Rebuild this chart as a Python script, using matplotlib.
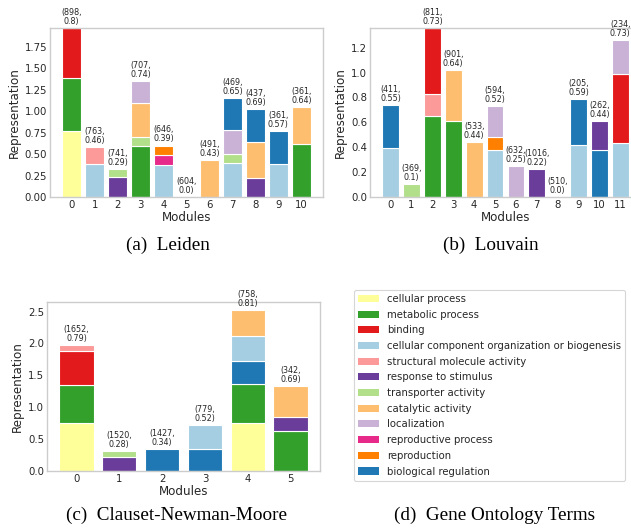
import matplotlib.pyplot as plt
import numpy as np
from matplotlib.patches import Patch

# GO terms, in legend order, and their colours
terms = ["cellular process", "metabolic process", "binding",
         "cellular component organization or biogenesis",
         "structural molecule activity", "response to stimulus",
         "transporter activity", "catalytic activity", "localization",
         "reproductive process", "reproduction", "biological regulation"]
term_colors = ["#ffff99", "#33a02c", "#e31a1c", "#a6cee3", "#fb9a99", "#6a3d9a",
               "#b2df8a", "#fdbf6f", "#cab2d6", "#e7298a", "#ff7f00", "#1f78b4"]

# per module: term indices (bottom to top) and their representation
leiden_terms = [[0, 1, 2], [3, 4], [5, 6], [1, 6, 7, 8], [3, 9, 10], [], [7],
                [3, 6, 8, 11], [5, 7, 11], [3, 11], [1, 7]]
leiden_vals = [[0.77, 0.62, 0.58], [0.39, 0.195], [0.234, 0.096],
               [0.60, 0.105, 0.395, 0.255], [0.378, 0.109, 0.113], [], [0.43],
               [0.40, 0.107, 0.273, 0.37], [0.222, 0.421, 0.387], [0.39, 0.38],
               [0.62, 0.43]]
leiden_labels = ["(898,\n0.8)", "(763,\n0.46)", "(741,\n0.29)", "(707,\n0.74)",
                 "(646,\n0.39)", "(604,\n0.0)", "(491,\n0.43)", "(469,\n0.65)",
                 "(437,\n0.69)", "(361,\n0.57)", "(361,\n0.64)"]

louvain_terms = [[3, 11], [6], [1, 4, 2], [1, 7], [7], [3, 10, 8], [8], [5], [],
                 [3, 11], [11, 5], [3, 2, 8]]
louvain_vals = [[0.39, 0.348], [0.105], [0.65, 0.177, 0.531], [0.61, 0.407],
                [0.44], [0.38, 0.103, 0.247], [0.252], [0.223], [],
                [0.42, 0.37], [0.38, 0.227], [0.43, 0.56, 0.27]]
louvain_labels = ["(411,\n0.55)", "(369,\n0.1)", "(811,\n0.73)", "(901,\n0.64)",
                  "(533,\n0.44)", "(594,\n0.52)", "(632,\n0.25)", "(1016,\n0.22)",
                  "(510,\n0.0)", "(205,\n0.59)", "(262,\n0.44)", "(234,\n0.73)"]

cnm_terms = [[0, 1, 2, 4], [5, 6], [11], [11, 3], [0, 1, 11, 3, 7], [1, 5, 7]]
cnm_vals = [[0.75, 0.595, 0.53, 0.10], [0.215, 0.095], [0.34], [0.34, 0.385],
            [0.76, 0.61, 0.35, 0.39, 0.416], [0.62, 0.225, 0.489]]
cnm_labels = ["(1652,\n0.79)", "(1520,\n0.28)", "(1427,\n0.34)", "(779,\n0.52)",
              "(758,\n0.81)", "(342,\n0.69)"]

W, H = 631, 529
fig = plt.figure(figsize=(W / 100, H / 100), dpi=100)


def box(left, top, right, bottom):
    return [left / W, 1 - bottom / H, (right - left) / W, (bottom - top) / H]


def stacked(ax, mod_terms, mod_vals, labels, ytop, yticks, fmt):
    for m, (ts, vs) in enumerate(zip(mod_terms, mod_vals)):
        bottom = 0
        for t, v in zip(ts, vs):
            ax.bar(m, v, bottom=bottom, width=0.8, color=term_colors[t],
                   edgecolor="white", linewidth=0.8)
            bottom += v
        ax.annotate(labels[m], (m, bottom), xytext=(0, 1.5),
                    textcoords="offset points", ha="center", va="bottom",
                    fontsize=5.8, color="#262626", linespacing=1.0,
                    annotation_clip=False)
    n = len(mod_terms)
    ax.set_xlim(-0.4 - 0.05 * (n - 0.2), n - 0.6 + 0.05 * (n - 0.2))
    ax.set_ylim(0, ytop)
    ax.set_xticks(range(n))
    ax.set_yticks(yticks)
    ax.set_yticklabels([fmt.format(y) for y in yticks])
    ax.tick_params(length=0, labelsize=7.3, pad=2, colors="#262626")
    ax.set_xlabel("Modules", fontsize=8.6, labelpad=1, color="#262626")
    ax.set_ylabel("Representation", fontsize=8.6, labelpad=3, color="#262626")
    for s in ax.spines.values():
        s.set_color("#cccccc")
        s.set_linewidth(1.0)


ax_a = fig.add_axes(box(50, 28, 323, 197))
stacked(ax_a, leiden_terms, leiden_vals, leiden_labels, 1.97,
        np.arange(0, 1.76, 0.25), "{:.2f}")

ax_b = fig.add_axes(box(370, 28, 641, 197))
stacked(ax_b, louvain_terms, louvain_vals, louvain_labels, 1.358,
        np.arange(0, 1.21, 0.2), "{:.1f}")

ax_c = fig.add_axes(box(47, 302, 320, 471))
stacked(ax_c, cnm_terms, cnm_vals, cnm_labels, 2.65,
        np.arange(0, 2.51, 0.5), "{:.1f}")

# legend for the GO terms
handles = [Patch(facecolor=c, edgecolor="none") for c in term_colors]
leg = fig.legend(handles, terms, loc="upper left",
                 bbox_to_anchor=(354 / W, 1 - 290 / H), fontsize=7.3,
                 handlelength=2.1, handleheight=0.7, handletextpad=0.75,
                 labelspacing=0.56, borderaxespad=0, frameon=True, fancybox=True)
leg.get_frame().set_edgecolor("#cccccc")
leg.get_frame().set_linewidth(0.8)
for t in leg.get_texts():
    t.set_color("#262626")

# subfigure captions
cap = dict(fontsize=13.8, family="Liberation Serif", ha="center", va="center")
fig.text(168 / W, 1 - 245 / H, "(a)  Leiden", **cap)
fig.text(491 / W, 1 - 245 / H, "(b)  Louvain", **cap)
fig.text(177 / W, 1 - 515 / H, "(c)  Clauset-Newman-Moore", **cap)
fig.text(495 / W, 1 - 515 / H, "(d)  Gene Ontology Terms", **cap)

fig.savefig("out.png", dpi=100)
